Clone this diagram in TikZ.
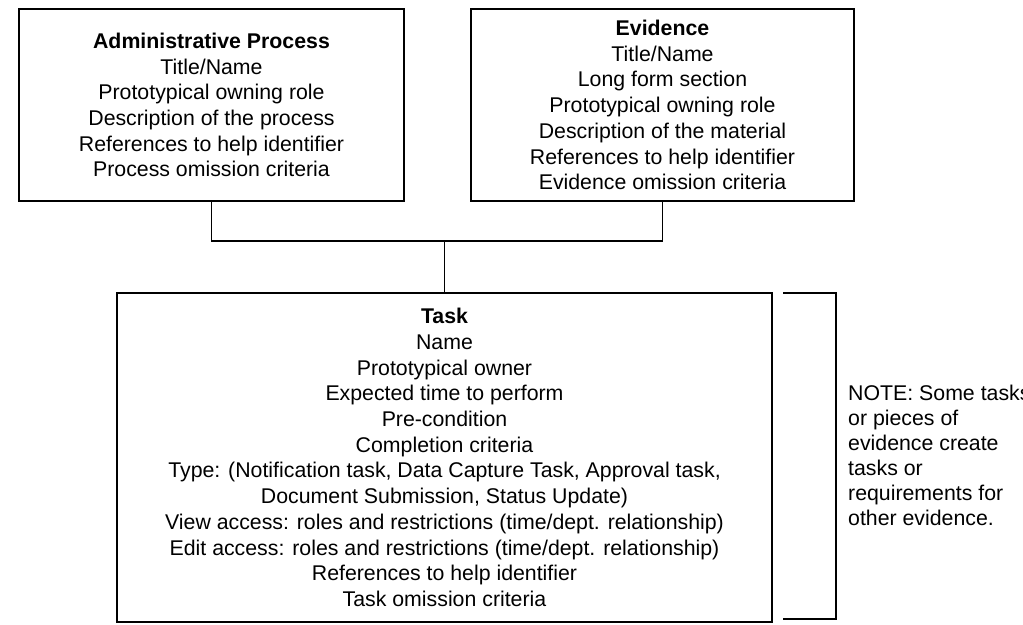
\documentclass[tikz,border=0pt]{standalone}
\usepackage{fontspec}
\setmainfont{Liberation Sans}
\begin{document}
\begin{tikzpicture}[x=1pt,y=-1pt,
  box/.style={draw=black,line width=1.2pt,rectangle,align=center,inner sep=0pt,
    font=\fontsize{21.3}{25.7}\selectfont},
  conn/.style={draw=black,line width=1.2pt},
  notetext/.style={align=left,inner sep=0pt,anchor=west,
    font=\fontsize{21.3}{25}\selectfont}]
\useasboundingbox (0,0) rectangle (1023,624);
\node[box,minimum width=385pt,minimum height=192pt] (admin) at (211.5,105)
 {\textbf{Administrative Process}\\Title/Name\\Prototypical owning role\\Description of the process\\References to help identifier\\Process omission criteria};
\node[box,minimum width=383pt,minimum height=192pt] (evid) at (662.5,105)
 {\textbf{Evidence}\\Title/Name\\Long form section\\Prototypical owning role\\Description of the material\\References to help identifier\\Evidence omission criteria};
\node[box,minimum width=655pt,minimum height=329pt] (task) at (444.5,457.5)
 {\textbf{Task}\\Name\\Prototypical owner\\Expected time to perform\\Pre-condition\\Completion criteria\\Type: (Notification task, Data Capture Task, Approval task,\\Document Submission, Status Update)\\View access: roles and restrictions (time/dept. relationship)\\Edit access: roles and restrictions (time/dept. relationship)\\References to help identifier\\Task omission criteria};
\coordinate (j) at (444.5,241);
\draw[conn] (admin.south) |- (j);
\draw[conn] (evid.south) |- (j);
\draw[conn] (j) -- (task.north);
\coordinate (bt) at (783,293);
\coordinate (bb) at (783,619);
\draw[conn] (bt) -- (836,293) -- (836,619) -- (bb);
\node[notetext] (note) at (848,455.5)
 {NOTE: Some tasks\\or pieces of\\evidence create\\tasks or\\requirements for\\other evidence.};
\end{tikzpicture}
\end{document}
